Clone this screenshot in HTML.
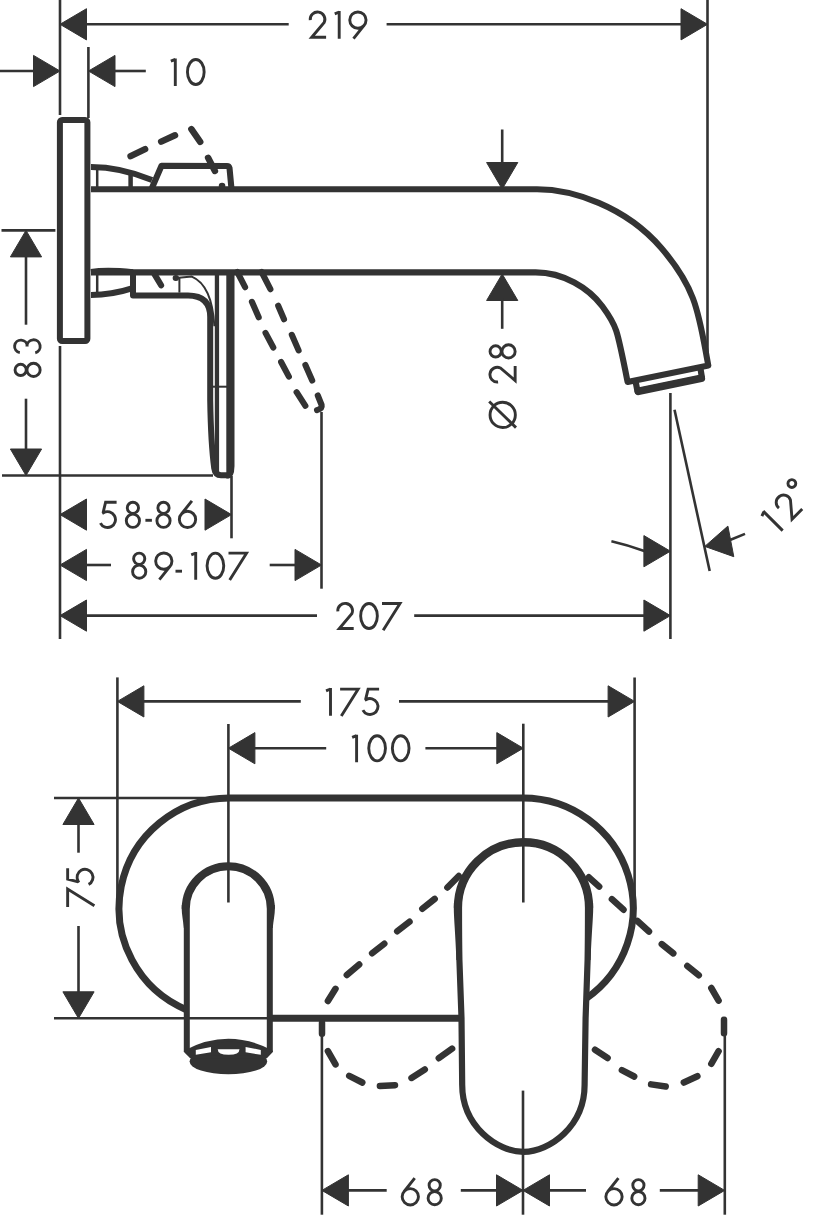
<!DOCTYPE html>
<html><head><meta charset="utf-8"><style>
html,body{margin:0;padding:0;background:#fff;}
svg{display:block;}
text{font-family:"Liberation Sans",sans-serif;fill:#333;stroke:none;}
</style></head><body>
<svg width="823" height="1216" viewBox="0 0 823 1216" stroke="#333" fill="none">
<line x1="60.0" y1="0" x2="60.0" y2="115" stroke-width="2.6" stroke-linecap="butt"/>
<line x1="88.4" y1="47" x2="88.4" y2="118" stroke-width="2.6" stroke-linecap="butt"/>
<line x1="707.5" y1="0" x2="707.5" y2="365" stroke-width="2.6" stroke-linecap="butt"/>
<line x1="60.0" y1="346" x2="60.0" y2="639" stroke-width="2.6" stroke-linecap="butt"/>
<line x1="670.4" y1="393" x2="670.4" y2="639" stroke-width="2.6" stroke-linecap="butt"/>
<line x1="1.5" y1="230.4" x2="55.4" y2="230.4" stroke-width="2.6" stroke-linecap="butt"/>
<line x1="2" y1="475.5" x2="213" y2="475.5" stroke-width="2.6" stroke-linecap="butt"/>
<line x1="231.5" y1="476" x2="231.5" y2="538.3" stroke-width="2.6" stroke-linecap="butt"/>
<line x1="321.5" y1="412" x2="321.5" y2="588.7" stroke-width="2.6" stroke-linecap="butt"/>
<path d="M60.0,24.3 L86.5,39.9 L86.5,8.7 Z" fill="#333" stroke-width="1" stroke-linejoin="round"/>
<line x1="86" y1="24.3" x2="288.7" y2="24.3" stroke-width="2.6" stroke-linecap="butt"/>
<g transform="translate(0,38.7)" stroke-width="2.9" fill="none" stroke-linejoin="miter" ><path transform="translate(308.7,0)" d="M1.54,-18.53 A7.35,7.35 0 1 1 15.51,-16.19 L3.0,-1.45 L17.4,-1.45 "/><path transform="translate(333.3,0)" d="M1.45,-24.9 L5.9,-26.7 M5.9,-27.6 L5.9,0 "/><path transform="translate(348.3,0)" d="M1.45,-18.60 A8.15,8.15 0 1 1 17.75,-18.60 A8.15,8.15 0 1 1 1.45,-18.60 Z M15.96,-13.55 L5.19,0 "/></g>
<line x1="386.6" y1="24.3" x2="682" y2="24.3" stroke-width="2.6" stroke-linecap="butt"/>
<path d="M707.5,24.3 L681.0,8.7 L681.0,39.9 Z" fill="#333" stroke-width="1" stroke-linejoin="round"/>
<line x1="0" y1="71.0" x2="35" y2="71.0" stroke-width="2.6" stroke-linecap="butt"/>
<path d="M60.0,71.0 L33.5,55.4 L33.5,86.6 Z" fill="#333" stroke-width="1" stroke-linejoin="round"/>
<path d="M88.5,71.0 L115.0,86.6 L115.0,55.4 Z" fill="#333" stroke-width="1" stroke-linejoin="round"/>
<line x1="114" y1="71.0" x2="145.8" y2="71.0" stroke-width="2.6" stroke-linecap="butt"/>
<g transform="translate(0,86)" stroke-width="2.9" fill="none" stroke-linejoin="miter" ><path transform="translate(169.4,0)" d="M1.45,-24.9 L5.9,-26.7 M5.9,-27.6 L5.9,0 "/><path transform="translate(186,0)" d="M1.45,-14.00 A8.35,12.55 0 1 1 18.15,-14.00 A8.35,12.55 0 1 1 1.45,-14.00 Z "/></g>
<path d="M26,230.4 L10.4,256.9 L41.6,256.9 Z" fill="#333" stroke-width="1" stroke-linejoin="round"/>
<line x1="26" y1="256" x2="26" y2="324.7" stroke-width="2.6" stroke-linecap="butt"/>
<g transform="translate(41.6,377.8) rotate(-90)" stroke-width="2.9" fill="none" stroke-linejoin="miter" ><path transform="translate(0,0)" d="M2.30,-20.95 A5.60,5.60 0 1 1 13.50,-20.95 A5.60,5.60 0 1 1 2.30,-20.95 Z M1.30,-8.05 A6.60,6.60 0 1 1 14.50,-8.05 A6.60,6.60 0 1 1 1.30,-8.05 Z "/><path transform="translate(22.9,0)" d="M2.30,-21.79 A6.30,6.30 0 1 1 8.50,-14.40 M8.50,-14.65 A6.60,6.60 0 1 1 2.12,-6.34 "/></g>
<line x1="26" y1="398.7" x2="26" y2="449" stroke-width="2.6" stroke-linecap="butt"/>
<path d="M26,475.5 L41.6,449.0 L10.4,449.0 Z" fill="#333" stroke-width="1" stroke-linejoin="round"/>
<line x1="502.2" y1="129.5" x2="502.2" y2="164" stroke-width="2.6" stroke-linecap="butt"/>
<path d="M502.2,189 L517.8,162.5 L486.6,162.5 Z" fill="#333" stroke-width="1" stroke-linejoin="round"/>
<path d="M502.2,274 L486.6,300.5 L517.8,300.5 Z" fill="#333" stroke-width="1" stroke-linejoin="round"/>
<line x1="502.2" y1="298" x2="502.2" y2="328.8" stroke-width="2.6" stroke-linecap="butt"/>
<g transform="translate(516.6,428.8) rotate(-90)" stroke-width="2.9" fill="none" stroke-linejoin="miter" ><path transform="translate(0,0)" d="M1.25,-13.90 A12.65,12.65 0 1 1 26.55,-13.90 A12.65,12.65 0 1 1 1.25,-13.90 Z M1.2,-0.6 L27.3,-27.4 "/><path transform="translate(45.3,0)" d="M1.54,-18.53 A7.35,7.35 0 1 1 15.51,-16.19 L3.0,-1.45 L17.4,-1.45 "/><path transform="translate(69.5,0)" d="M2.30,-20.95 A5.60,5.60 0 1 1 13.50,-20.95 A5.60,5.60 0 1 1 2.30,-20.95 Z M1.30,-8.05 A6.60,6.60 0 1 1 14.50,-8.05 A6.60,6.60 0 1 1 1.30,-8.05 Z "/></g>
<path d="M60.0,514.6 L86.5,530.2 L86.5,499.0 Z" fill="#333" stroke-width="1" stroke-linejoin="round"/>
<g transform="translate(0,528.8)" stroke-width="2.9" fill="none" stroke-linejoin="miter" ><path transform="translate(98.8,0)" d="M17.8,-26.55 L6.8,-26.55 L4.4,-16.6 L4.70,-16.07 A7.95,7.95 0 1 1 1.59,-5.64 "/><path transform="translate(125,0)" d="M2.30,-20.95 A5.60,5.60 0 1 1 13.50,-20.95 A5.60,5.60 0 1 1 2.30,-20.95 Z M1.30,-8.05 A6.60,6.60 0 1 1 14.50,-8.05 A6.60,6.60 0 1 1 1.30,-8.05 Z "/><path transform="translate(145.4,0)" d="M0,-8.5 L6.5,-8.5 "/><path transform="translate(155.6,0)" d="M2.30,-20.95 A5.60,5.60 0 1 1 13.50,-20.95 A5.60,5.60 0 1 1 2.30,-20.95 Z M1.30,-8.05 A6.60,6.60 0 1 1 14.50,-8.05 A6.60,6.60 0 1 1 1.30,-8.05 Z "/><path transform="translate(177.9,0)" d="M1.45,-9.40 A8.15,8.15 0 1 1 17.75,-9.40 A8.15,8.15 0 1 1 1.45,-9.40 Z M3.24,-14.45 L14.01,-28 "/></g>
<path d="M231.5,514.6 L205.0,499.0 L205.0,530.2 Z" fill="#333" stroke-width="1" stroke-linejoin="round"/>
<path d="M60.0,565 L86.5,580.6 L86.5,549.4 Z" fill="#333" stroke-width="1" stroke-linejoin="round"/>
<line x1="86" y1="565" x2="111" y2="565" stroke-width="2.6" stroke-linecap="butt"/>
<g transform="translate(0,579.7)" stroke-width="2.9" fill="none" stroke-linejoin="miter" ><path transform="translate(131.3,0)" d="M2.30,-20.95 A5.60,5.60 0 1 1 13.50,-20.95 A5.60,5.60 0 1 1 2.30,-20.95 Z M1.30,-8.05 A6.60,6.60 0 1 1 14.50,-8.05 A6.60,6.60 0 1 1 1.30,-8.05 Z "/><path transform="translate(154.2,0)" d="M1.45,-18.60 A8.15,8.15 0 1 1 17.75,-18.60 A8.15,8.15 0 1 1 1.45,-18.60 Z M15.96,-13.55 L5.19,0 "/><path transform="translate(175.5,0)" d="M0,-8.5 L6.5,-8.5 "/><path transform="translate(189.8,0)" d="M1.45,-24.9 L5.9,-26.7 M5.9,-27.6 L5.9,0 "/><path transform="translate(205.6,0)" d="M1.45,-14.00 A8.35,12.55 0 1 1 18.15,-14.00 A8.35,12.55 0 1 1 1.45,-14.00 Z "/><path transform="translate(228.5,0)" d="M0,-26.55 L18.0,-26.55 L1.2,0.2 "/></g>
<line x1="269.7" y1="565" x2="296" y2="565" stroke-width="2.6" stroke-linecap="butt"/>
<path d="M321.5,565 L295.0,549.4 L295.0,580.6 Z" fill="#333" stroke-width="1" stroke-linejoin="round"/>
<path d="M60.0,615.6 L86.5,631.2 L86.5,600.0 Z" fill="#333" stroke-width="1" stroke-linejoin="round"/>
<line x1="86" y1="615.6" x2="317" y2="615.6" stroke-width="2.6" stroke-linecap="butt"/>
<g transform="translate(0,630)" stroke-width="2.9" fill="none" stroke-linejoin="miter" ><path transform="translate(336.3,0)" d="M1.54,-18.53 A7.35,7.35 0 1 1 15.51,-16.19 L3.0,-1.45 L17.4,-1.45 "/><path transform="translate(359.2,0)" d="M1.45,-14.00 A8.35,12.55 0 1 1 18.15,-14.00 A8.35,12.55 0 1 1 1.45,-14.00 Z "/><path transform="translate(382,0)" d="M0,-26.55 L18.0,-26.55 L1.2,0.2 "/></g>
<line x1="414.2" y1="615.6" x2="644" y2="615.6" stroke-width="2.6" stroke-linecap="butt"/>
<path d="M670.4,615.6 L643.9,600.0 L643.9,631.2 Z" fill="#333" stroke-width="1" stroke-linejoin="round"/>
<line x1="674.5" y1="409.8" x2="709.7" y2="571" stroke-width="2.6" stroke-linecap="butt"/>
<path d="M670.4,551.2 L643.9,535.6 L643.9,566.8 Z" fill="#333" stroke-width="1" stroke-linejoin="round"/>
<path d="M611.4,541.2 Q628,545 645,551.2" stroke-width="2.6" fill="none" />
<path d="M704.8,546.4 L733.8,556.7 L727.9,526.1 Z" fill="#333" stroke-width="1" stroke-linejoin="round"/>
<line x1="730" y1="540" x2="745" y2="533.9" stroke-width="2.6" stroke-linecap="butt"/>
<g transform="translate(778.5,534.8) rotate(-45)" stroke-width="2.9" fill="none" stroke-linejoin="miter" ><path transform="translate(0,0)" d="M1.45,-24.9 L5.9,-26.7 M5.9,-27.6 L5.9,0 "/><path transform="translate(17.6,0)" d="M1.54,-18.53 A7.35,7.35 0 1 1 15.51,-16.19 L3.0,-1.45 L17.4,-1.45 "/><path transform="translate(45.7,-26.8)" d="M-3.90,0.00 A3.90,3.90 0 1 1 3.90,0.00 A3.90,3.90 0 1 1 -3.90,0.00 Z "/></g>
<rect x="59.9" y="120" width="27.5" height="221" rx="2.2" stroke-width="6"/>
<path d="M91,189.2 L537,189.2 C572,189.2 625.2,206.1 661.1,247.7 C697.1,289.6 698.7,313.9 708.3,365.5 L627.6,382 C616.9,327.7 616.6,325.7 602.3,306.3 C588.8,288.1 563.4,272.4 535.6,272.4 L91,272.4" stroke-width="6.1" fill="none" stroke-linejoin="round"/>
<path d="M635.5,381 L637.5,391.3 L702,378 L700.3,367.5" stroke-width="6.2" fill="none" stroke-linejoin="round"/>
<line x1="638.5" y1="391.3" x2="701.2" y2="378.2" stroke-width="7.8" stroke-linecap="round"/>
<path d="M91,167 C110,167 130,171 152,180" stroke-width="6.1" fill="none" />
<line x1="97.2" y1="167" x2="97.2" y2="189" stroke-width="2.5" stroke-linecap="butt"/>
<line x1="130.6" y1="173" x2="130.6" y2="189" stroke-width="4.5" stroke-linecap="butt"/>
<path d="M151.5,189 L161.5,165.8 L227,166 Q229,166 229.5,168 L231.5,189" stroke-width="6.1" fill="none" stroke-linejoin="round"/>
<path d="M130.6,156.2 L145.1,149.1 M161.2,141.6 L175.0,135.3 M191.4,129.2 L200.2,141.8 M208.1,157.8 L214.9,170.9 M222.0,185.9 L222.1,185.9 " stroke-width="6.5" stroke-linecap="round"/>
<path d="M91,272 Q106,269.6 133,272.2" stroke-width="6.1" fill="none" />
<path d="M91,295 C105,295 118,293 131,288.7" stroke-width="6.1" fill="none" />
<line x1="97.2" y1="272" x2="97.2" y2="295" stroke-width="2.5" stroke-linecap="butt"/>
<path d="M133,272 L133,295.5 L188,295.5 Q210.2,295.5 210.2,317 L210.2,400 C210.6,425 211.8,450 214.2,468 Q215.2,475.2 221,475.2 L229,475.2" stroke-width="6" fill="none" stroke-linejoin="round"/>
<line x1="179.4" y1="278" x2="179.4" y2="292.6" stroke-width="2" stroke-linecap="butt"/>
<path d="M176,278 L191.8,276.6 Q212,285 214.4,326.2" stroke-width="2" fill="none" />
<line x1="216.95" y1="272" x2="216.95" y2="472" stroke-width="4.3" stroke-linecap="butt"/>
<line x1="210" y1="386.7" x2="230" y2="386.7" stroke-width="2" stroke-linecap="butt"/>
<path d="M226.3,272 L234.5,272 L234.5,466 Q234.3,478.6 228,478.6 L226.3,478.6 Z" fill="#333" stroke="none"/>
<path d="M237.3,272 L245.1,287.2 M251.9,301.8 L258.7,317.3 M265.5,332.9 L273.3,347.5 M281.1,362 L288.9,376.6 M296.6,392.2 L305.4,405.8" stroke-width="6.1" fill="none" stroke-linecap="round"/>
<path d="M261.6,272 L270.4,289.2 M278.2,305.7 L284,319.3 M291.8,334.8 L298.6,350.4 M305.4,365 L312.2,380.5 M317.8,395.5 L321.6,405 Q322.4,408.6 317,410.2" stroke-width="6.1" fill="none" stroke-linecap="round" stroke-linejoin="round"/>
<path d="M154.6,274.4 L161.1,285.3 M175.7,278 L176,278" stroke-width="6.1" fill="none" stroke-linecap="round"/>
<line x1="117.4" y1="677.4" x2="117.4" y2="900" stroke-width="2.6" stroke-linecap="butt"/>
<line x1="634.6" y1="677.5" x2="634.6" y2="907" stroke-width="2.6" stroke-linecap="butt"/>
<line x1="228.4" y1="724" x2="228.4" y2="902.5" stroke-width="2.6" stroke-linecap="butt"/>
<line x1="523.3" y1="723.7" x2="523.3" y2="902.5" stroke-width="2.6" stroke-linecap="butt"/>
<line x1="54" y1="798" x2="230" y2="798" stroke-width="2.6" stroke-linecap="butt"/>
<line x1="54" y1="1018.3" x2="270" y2="1018.3" stroke-width="2.6" stroke-linecap="butt"/>
<path d="M117.4,701.4 L143.9,717.0 L143.9,685.8 Z" fill="#333" stroke-width="1" stroke-linejoin="round"/>
<line x1="143" y1="701.4" x2="300.8" y2="701.4" stroke-width="2.6" stroke-linecap="butt"/>
<g transform="translate(0,715.7)" stroke-width="2.9" fill="none" stroke-linejoin="miter" ><path transform="translate(324.6,0)" d="M1.45,-24.9 L5.9,-26.7 M5.9,-27.6 L5.9,0 "/><path transform="translate(340.1,0)" d="M0,-26.55 L18.0,-26.55 L1.2,0.2 "/><path transform="translate(361.3,0)" d="M17.8,-26.55 L6.8,-26.55 L4.4,-16.6 L4.70,-16.07 A7.95,7.95 0 1 1 1.59,-5.64 "/></g>
<line x1="399" y1="701.4" x2="609" y2="701.4" stroke-width="2.6" stroke-linecap="butt"/>
<path d="M634.6,701.4 L608.1,685.8 L608.1,717.0 Z" fill="#333" stroke-width="1" stroke-linejoin="round"/>
<path d="M228.4,748.2 L254.9,763.8 L254.9,732.6 Z" fill="#333" stroke-width="1" stroke-linejoin="round"/>
<line x1="254" y1="748.2" x2="326.2" y2="748.2" stroke-width="2.6" stroke-linecap="butt"/>
<g transform="translate(0,762.3)" stroke-width="2.9" fill="none" stroke-linejoin="miter" ><path transform="translate(350.7,0)" d="M1.45,-24.9 L5.9,-26.7 M5.9,-27.6 L5.9,0 "/><path transform="translate(367.3,0)" d="M1.45,-14.00 A8.35,12.55 0 1 1 18.15,-14.00 A8.35,12.55 0 1 1 1.45,-14.00 Z "/><path transform="translate(390.9,0)" d="M1.45,-14.00 A8.35,12.55 0 1 1 18.15,-14.00 A8.35,12.55 0 1 1 1.45,-14.00 Z "/></g>
<line x1="425.4" y1="748.2" x2="498" y2="748.2" stroke-width="2.6" stroke-linecap="butt"/>
<path d="M523.3,748.2 L496.8,732.6 L496.8,763.8 Z" fill="#333" stroke-width="1" stroke-linejoin="round"/>
<path d="M78.5,798 L62.9,824.5 L94.1,824.5 Z" fill="#333" stroke-width="1" stroke-linejoin="round"/>
<line x1="78.5" y1="823" x2="78.5" y2="852.7" stroke-width="2.6" stroke-linecap="butt"/>
<g transform="translate(94.2,907) rotate(-90)" stroke-width="2.9" fill="none" stroke-linejoin="miter" ><path transform="translate(0,0)" d="M0,-26.55 L18.0,-26.55 L1.2,0.2 "/><path transform="translate(21,0)" d="M17.8,-26.55 L6.8,-26.55 L4.4,-16.6 L4.70,-16.07 A7.95,7.95 0 1 1 1.59,-5.64 "/></g>
<line x1="78.5" y1="926" x2="78.5" y2="993" stroke-width="2.6" stroke-linecap="butt"/>
<path d="M78.5,1018.3 L94.1,991.8 L62.9,991.8 Z" fill="#333" stroke-width="1" stroke-linejoin="round"/>
<path d="M229.2,798 L523,798 A110.2,110.2 0 0 1 585.9,998.7 M461,1018.2 L269.8,1018.2 M186.8,1009.9 A110.2,110.2 0 0 1 229.2,798" stroke-width="7.0" fill="none" />
<path d="M186.8,1052 L186.8,908.8 A41.5,41.5 0 0 1 269.8,908.8 L269.8,1052" stroke-width="6" fill="none" />
<path d="M185.4,908.8 A42.9,42.9 0 0 1 271.2,908.8" stroke-width="7.4" fill="none" />
<path d="M181.75,905 L181.7,908.8 C181.7,914 183.2,921 183.85,928 L187,928 L187,905 Z M274.85,905 L274.9,908.8 C274.9,914 273.4,921 272.75,928 L269.6,928 L269.6,905 Z" fill="#333" stroke="none"/>
<ellipse cx="228.4" cy="1061.5" rx="38.8" ry="12.8" fill="#333" stroke="none"/>
<path d="M185.5,1051.5 Q228.4,1029 271.3,1051.5 L266,1057 L191,1057 Z" stroke-width="3" fill="#333" stroke-linejoin="round"/>
<path d="M195.8,1049.9 L211,1046.9 L211,1052.3 L195.8,1054.8 Z M217.7,1049.3 L239.5,1049.3 Q239.5,1054.8 228.6,1054.8 Q217.7,1054.8 217.7,1049.3 Z M245.6,1046.9 L260.8,1049.9 L260.8,1054.8 L245.6,1052.3 Z" fill="#fff" stroke="none"/>
<path d="M462.2,1085 L461.5,1018 L459.4,960 C459.1,945 459,925 459,907.8 A64.5,64.5 0 0 1 588,907.8 C588,925 587.9,945 587.6,960 L585.6,1018 L584.6,1085 C584.6,1126 550,1151.8 523.5,1151.8 C497,1151.8 462.2,1126 462.2,1085 Z" stroke-width="6.2" fill="none" />
<path d="M457.6,907.8 A65.9,65.9 0 0 1 589.4,907.8" stroke-width="7.6" fill="none" />
<path d="M453.9,903 L453.8,907.8 C453.8,918 455.5,935 456.4,960 L460,960 L460,903 Z M593.1,903 L593.2,907.8 C593.2,918 591.5,935 590.6,960 L587,960 L587,903 Z" fill="#333" stroke="none"/>
<path d="M458.8,876.0 L447.4,887.5 M434.7,898.9 L422.3,908.7 M409.5,921.8 L397.2,931.3 M384.3,943.7 L372.1,953.2 M359.2,964.5 L346.8,975.0 M335.5,988.8 L327.9,1001.0 M322.0,1022.7 L322.0,1033.8 M327.9,1051.1 L335.5,1064.4 M349.2,1075.8 L362.3,1082.5 M379.9,1086.1 L395.0,1085.2 M411.5,1077.9 L424.8,1069.4 M438.8,1058.2 L452.1,1048.7 " stroke-width="6.5" stroke-linecap="round"/>
<path d="M588.9,877.3 L599.2,886.6 M611.9,899.1 L623.5,909.7 M637.4,921.0 L649.0,931.5 M661.8,944.1 L673.3,953.4 M687.3,966.0 L698.8,975.3 M711.3,988.0 L718.6,1000.6 M724.0,1019.8 L724.0,1033.2 M718.6,1051.2 L711.3,1063.8 M697.4,1076.2 L683.8,1082.5 M665.7,1086.5 L651.1,1084.4 M634.2,1076.5 L621.9,1070.1 M607.6,1058.0 L595.0,1049.7 " stroke-width="6.5" stroke-linecap="round"/>
<line x1="321.9" y1="1020" x2="321.9" y2="1214.7" stroke-width="2.6" stroke-linecap="butt"/>
<line x1="724.8" y1="1034" x2="724.8" y2="1214.7" stroke-width="2.6" stroke-linecap="butt"/>
<line x1="523" y1="1090.6" x2="523" y2="1214.7" stroke-width="2.6" stroke-linecap="butt"/>
<path d="M321.9,1190.4 L348.4,1206.0 L348.4,1174.8 Z" fill="#333" stroke-width="1" stroke-linejoin="round"/>
<line x1="347" y1="1190.4" x2="386.7" y2="1190.4" stroke-width="2.6" stroke-linecap="butt"/>
<g transform="translate(0,1206.2)" stroke-width="2.9" fill="none" stroke-linejoin="miter" ><path transform="translate(400.7,0)" d="M1.45,-9.40 A8.15,8.15 0 1 1 17.75,-9.40 A8.15,8.15 0 1 1 1.45,-9.40 Z M3.24,-14.45 L14.01,-28 "/><path transform="translate(426.8,0)" d="M2.30,-20.95 A5.60,5.60 0 1 1 13.50,-20.95 A5.60,5.60 0 1 1 2.30,-20.95 Z M1.30,-8.05 A6.60,6.60 0 1 1 14.50,-8.05 A6.60,6.60 0 1 1 1.30,-8.05 Z "/></g>
<line x1="460.8" y1="1190.4" x2="499" y2="1190.4" stroke-width="2.6" stroke-linecap="butt"/>
<path d="M523,1190.4 L496.5,1174.8 L496.5,1206.0 Z" fill="#333" stroke-width="1" stroke-linejoin="round"/>
<path d="M523,1190.4 L549.5,1206.0 L549.5,1174.8 Z" fill="#333" stroke-width="1" stroke-linejoin="round"/>
<line x1="549" y1="1190.4" x2="586" y2="1190.4" stroke-width="2.6" stroke-linecap="butt"/>
<g transform="translate(0,1206.2)" stroke-width="2.9" fill="none" stroke-linejoin="miter" ><path transform="translate(604.4,0)" d="M1.45,-9.40 A8.15,8.15 0 1 1 17.75,-9.40 A8.15,8.15 0 1 1 1.45,-9.40 Z M3.24,-14.45 L14.01,-28 "/><path transform="translate(630.5,0)" d="M2.30,-20.95 A5.60,5.60 0 1 1 13.50,-20.95 A5.60,5.60 0 1 1 2.30,-20.95 Z M1.30,-8.05 A6.60,6.60 0 1 1 14.50,-8.05 A6.60,6.60 0 1 1 1.30,-8.05 Z "/></g>
<line x1="659.8" y1="1190.4" x2="699" y2="1190.4" stroke-width="2.6" stroke-linecap="butt"/>
<path d="M724.7,1190.4 L698.2,1174.8 L698.2,1206.0 Z" fill="#333" stroke-width="1" stroke-linejoin="round"/>
</svg>
</body></html>
